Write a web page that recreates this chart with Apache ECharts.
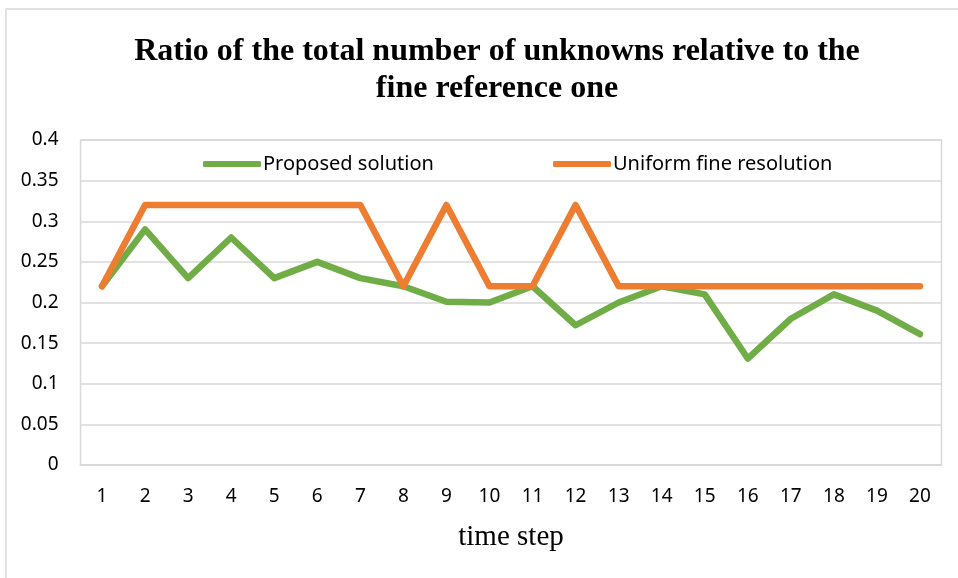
<!DOCTYPE html>
<html><head><meta charset="utf-8">
<script src="https://cdn.jsdelivr.net/npm/echarts@6/dist/echarts.min.js"></script>
<style>html,body{margin:0;padding:0;background:#fff}#c{width:958px;height:578px}</style>
</head><body><div id="c"></div>
<script>
const categories = ['1','2','3','4','5','6','7','8','9','10','11','12','13','14','15','16','17','18','19','20'];
const proposed = [0.22,0.29,0.23,0.28,0.23,0.25,0.23,0.22,0.201,0.2,0.22,0.172,0.2,0.22,0.21,0.131,0.18,0.21,0.19,0.161];
const uniform = [0.22,0.32,0.32,0.32,0.32,0.32,0.32,0.22,0.32,0.22,0.22,0.32,0.22,0.22,0.22,0.22,0.22,0.22,0.22,0.22];
const seriesNames = ['Proposed solution','Uniform fine resolution'];
const titleText = 'Ratio of the total number of unknowns relative to the\nfine reference one';
const xName = 'time step';

const chart = echarts.init(document.getElementById('c'), null, {renderer:'canvas'});
const grey = '#d9d9d9';
const labelFont = {fontFamily:'"Noto Sans", sans-serif', fontSize:19, color:'#000'};
const legendFont = {fontFamily:'"Noto Sans", sans-serif', fontSize:20, color:'#000'};
chart.setOption({
  animation:false,
  backgroundColor:'#fff',
  graphic:[{type:'rect', shape:{x:6,y:9,width:1200,height:1200}, style:{fill:'none',stroke:grey,lineWidth:1.5}, silent:true}],
  title:{text:titleText, left:492, textAlign:'center', top:28,
    textStyle:{fontFamily:'"Liberation Serif", serif', fontWeight:'bold', fontSize:32, lineHeight:37, color:'#000'}},
  legend:[
    {data:[seriesNames[0]], left:198, top:149, itemWidth:58, itemHeight:6, itemGap:0, icon:'roundRect',
      textStyle:Object.assign({padding:[0,0,0,-3]}, legendFont)},
    {data:[seriesNames[1]], left:548, top:149, itemWidth:58, itemHeight:6, itemGap:0, icon:'roundRect',
      textStyle:Object.assign({padding:[0,0,0,-3]}, legendFont)}
  ],
  grid:{left:80.5, right:16.5, top:140, bottom:113, show:true, borderColor:grey, borderWidth:1.5},
  xAxis:{type:'category', data:categories, boundaryGap:true,
    name:xName, nameLocation:'middle', nameGap:58,
    nameTextStyle:{fontFamily:'"Liberation Serif", serif', fontSize:29, color:'#000'},
    axisLine:{lineStyle:{color:grey,width:1.5}}, axisTick:{show:false},
    axisLabel:Object.assign({margin:22}, labelFont)},
  yAxis:{type:'value', min:0, max:0.4, interval:0.05,
    axisLine:{show:false}, axisTick:{show:false},
    axisLabel:Object.assign({margin:22}, labelFont),
    splitLine:{lineStyle:{color:grey,width:1.5}}},
  series:[
    {name:seriesNames[0], type:'line', data:proposed, symbol:'none', color:'#70ad47',
      lineStyle:{width:6.5, cap:'round', join:'round'}, z:2},
    {name:seriesNames[1], type:'line', data:uniform, symbol:'none', color:'#ed7d31',
      lineStyle:{width:6.5, cap:'round', join:'round'}, z:3}
  ]
});
</script></body></html>
